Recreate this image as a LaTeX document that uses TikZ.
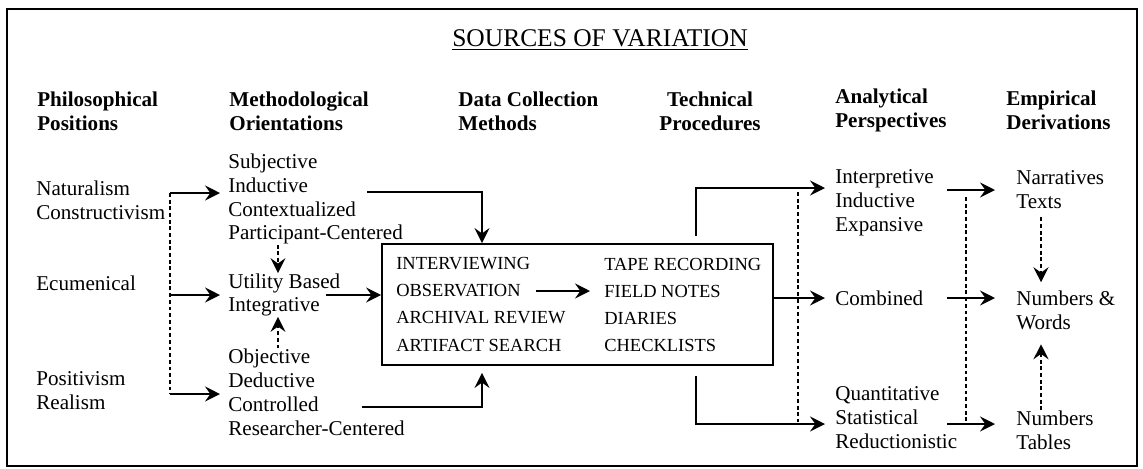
\documentclass[tikz,border=0pt]{standalone}
\usepackage{fontspec}
\setmainfont{Liberation Serif}
\usetikzlibrary{arrows.meta}

\begin{document}
\begin{tikzpicture}[x=0.02cm, y=-0.02cm,
		txt/.style={anchor=west, inner sep=0pt, align=left, font=\fontsize{12}{13.6}\selectfont},
		hd/.style={txt, font=\fontsize{12}{13.6}\selectfont\bfseries},
		meth/.style={anchor=west, inner sep=0pt, font=\fontsize{10.5}{12}\selectfont},
		arr/.style={-{Stealth[length=8.5pt,width=8.5pt,inset=3pt]}, line width=1.1pt},
		dsh/.style={line width=1.3pt, dash pattern=on 2.2pt off 1.6pt},
	]
		\useasboundingbox (0,0) rectangle (1143,468);
		\draw[line width=1.2pt] (7,9) rectangle (1137,466);
		\node (title) at (600,40) {\fontsize{14.5}{16}\selectfont\underline{SOURCES OF VARIATION}};

		\node[hd] (hphil) at (37,111) {Philosophical\\Positions};
		\node[hd] (hmeth) at (229,111) {Methodological\\Orientations};
		\node[hd] (hdata) at (458,111) {Data Collection\\Methods};
		\node[hd, anchor=center, align=center] (htech) at (710,111) {Technical\\Procedures};
		\node[hd] (hanal) at (835,110) {Analytical\\Perspectives};
		\node[hd] (hemp) at (1006,110) {Empirical\\Derivations};

		\node[txt] (nat) at (36,200) {Naturalism\\Constructivism};
		\node[txt] (ecu) at (36,283) {Ecumenical};
		\node[txt] (pos) at (36,391) {Positivism\\Realism};

		\node[txt] (subj) at (228,199) {Subjective\\Inductive\\Contextualized\\Participant-Centered};
		\node[txt] (util) at (228,295) {Utility Based\\Integrative};
		\node[txt] (obj) at (228,392) {Objective\\Deductive\\Controlled\\Researcher-Centered};

		\node[draw, line width=1.1pt, minimum width=7.82cm, minimum height=2.42cm, inner sep=0pt] (dcm) at (577.5,304.5) {};
		\node[meth] (iv) at (396,264) {INTERVIEWING};
		\node[meth] (ob) at (396,291) {OBSERVATION};
		\node[meth] (ar) at (396,318) {ARCHIVAL REVIEW};
		\node[meth] (af) at (396,345) {ARTIFACT SEARCH};
		\node[meth] (tr) at (604,264) {TAPE RECORDING};
		\node[meth] (fn) at (604,291) {FIELD NOTES};
		\node[meth] (di) at (604,318) {DIARIES};
		\node[meth] (cl) at (604,345) {CHECKLISTS};

		\node[txt] (interp) at (835,203) {Interpretive\\Inductive\\Expansive};
		\node[txt] (comb) at (835,298) {Combined};
		\node[txt] (quant) at (835,418) {Quantitative\\Statistical\\Reductionistic};

		\node[txt] (narr) at (1016,190) {Narratives\\Texts};
		\node[txt] (nw) at (1016,310) {Numbers \&\\Words};
		\node[txt] (nt) at (1016,430) {Numbers\\Tables};

		\coordinate (lj1) at (170,193);
		\coordinate (lj3) at (170,394);
		\coordinate (mc) at (278,0);
		\coordinate (s1) at (367,192);
		\coordinate (s2) at (362,407);
		\coordinate (bc) at (482,0);
		\coordinate (tc) at (696,0);
		\coordinate (a1) at (825,188);
		\coordinate (a3) at (825,424);
		\coordinate (d2a) at (798,192);
		\coordinate (d2b) at (798,422);
		\coordinate (d3a) at (966,197);
		\coordinate (d3b) at (966,422);
		\coordinate (ea) at (947,0);
		\coordinate (ec) at (1041,0);

		% dotted guides
		\draw[dsh] (lj1) -- (lj3);
		\draw[dsh] (d2a) -- (d2b);
		\draw[dsh] (d3a) -- (d3b);

		\draw[arr, shorten >=0.16cm] (lj1) -- (lj1 -| subj.west);
		\draw[arr, shorten >=0.16cm] (util.west -| lj1) -- (util.west);
		\draw[arr, shorten >=0.16cm] (lj3) -- (lj3 -| obj.west);

		\draw[dsh, arr] (subj.south -| mc) -- (util.north -| mc);
		\draw[dsh, arr] (obj.north -| mc) -- (util.south -| mc);

		\draw[arr] (s1) -| (dcm.north -| bc);
		\draw[arr, shorten >=0.14cm] (s2) -| (dcm.south -| bc);
		\draw[arr] ([xshift=-0.29cm]util.east) -- (util.east -| dcm.west);
		\draw[arr, shorten <=0.3cm, shorten >=0.28cm] (ob) -- (fn);

		\draw[arr, shorten <=0.14cm] (dcm.north -| tc) |- (a1);
		\draw[arr, shorten <=0.2cm] (dcm.south -| tc) |- (a3);
		\draw[arr, shorten >=0.2cm] (comb.west -| dcm.east) -- (comb.west);

		\draw[arr, shorten >=0.42cm] (narr.west -| ea) -- (narr.west);
		\draw[arr, shorten >=0.42cm] (comb.west -| ea) -- (comb.west -| nw.west);
		\draw[arr, shorten >=0.42cm] (a3 -| ea) -- (a3 -| nt.west);

		\draw[dsh, arr, shorten <=0.16cm, shorten >=0.16cm] (narr.south -| ec) -- (nw.north -| ec);
		\draw[dsh, arr, shorten >=0.29cm] (nt.north -| ec) -- (nw.south -| ec);
	\end{tikzpicture}
\end{document}
